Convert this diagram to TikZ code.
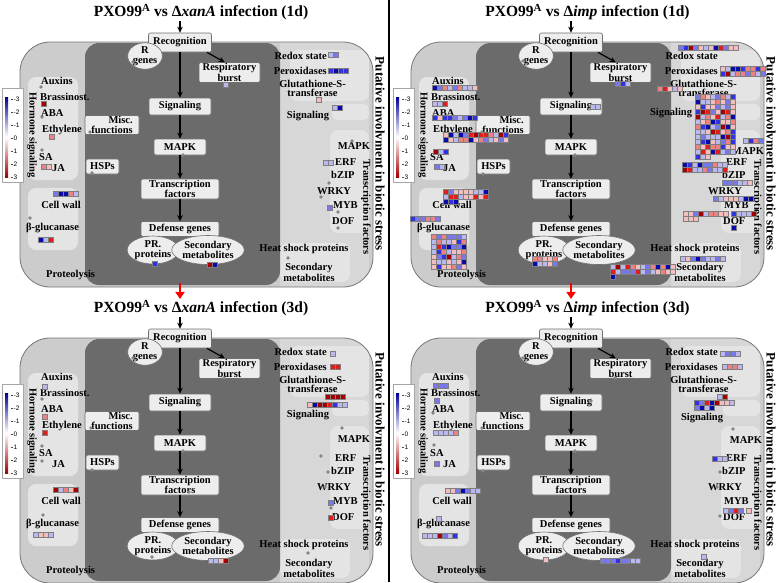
\documentclass[tikz,border=0pt]{standalone}
\usepackage{fontspec}
\setmainfont{Liberation Serif}
\newfontfamily\lsans{Liberation Sans}
\usetikzlibrary{arrows.meta,shapes.geometric}
\definecolor{outerc}{HTML}{CCCCCC}
\definecolor{rightc}{HTML}{D7D7D7}
\definecolor{lightc}{HTML}{E4E4E4}
\definecolor{innerc}{HTML}{6B6B6B}
\definecolor{nodef}{HTML}{EDEDED}
\definecolor{nodebd}{HTML}{707070}
\definecolor{outerbd}{HTML}{777777}
\definecolor{dotc}{HTML}{858585}
\definecolor{cellbd}{HTML}{7F7F7F}
\definecolor{b3}{RGB}{10,10,170}
\definecolor{b2}{RGB}{50,50,225}
\definecolor{b1}{RGB}{120,120,235}
\definecolor{b0}{RGB}{185,185,240}
\definecolor{r0}{RGB}{245,190,190}
\definecolor{r1}{RGB}{238,130,130}
\definecolor{r2}{RGB}{225,30,30}
\definecolor{r3}{RGB}{165,0,0}
\colorlet{hc1}{b3}\colorlet{hc2}{b2}\colorlet{hc3}{b1}\colorlet{hc4}{b1}
\colorlet{hc5}{b0}\colorlet{hc6}{b0}\colorlet{hc7}{b0}\colorlet{hc8}{r0}
\colorlet{hc9}{r0}\colorlet{hc10}{r0}\colorlet{hc11}{r1}\colorlet{hc12}{r1}
\colorlet{hc13}{r2}\colorlet{hc14}{r3}
\definecolor{lgb}{RGB}{0,0,150}
\definecolor{lgr}{RGB}{160,0,0}
\newcommand\lblf{\bfseries\fontsize{10.5}{9.5}\selectfont}
\tikzset{
 nb/.style={draw=nodebd, fill=nodef, rounded corners=2pt, line width=0.6pt, align=center, inner sep=0pt, font=\lblf},
 el/.style={ellipse, draw=nodebd, fill=nodef, line width=0.6pt, align=center, inner sep=0pt, font=\lblf},
 lb/.style={inner sep=0pt, font=\lblf, anchor=west, align=center},
 arr/.style={-{Stealth[length=6pt,width=5.5pt]}, line width=1.2pt},
 redarr/.style={-{Triangle[length=7pt,width=9pt]}, line width=2.2pt, red},
 ttl/.style={font=\bfseries\fontsize{15.5}{15.5}\selectfont, inner sep=1pt},
 vt/.style={rotate=-90, inner sep=0pt},
}
\newcommand\hmrow[3]{\foreach \cc [count=\ci from 0] in {#3}{\filldraw[fill=\cc, draw=cellbd, line width=0.4pt] ({#1+5*\ci},{#2}) rectangle ++(5,5);}}
\newcommand\hmgrid[4]{\foreach \gr in {1,...,#4}{\foreach \gc in {1,...,#3}{\pgfmathrandominteger{\gk}{1}{14}\filldraw[fill=hc\gk, draw=cellbd, line width=0.4pt] ({#1+5*(\gc-1)},{#2+5*(\gr-1)}) rectangle ++(5,5);}}}
\newcommand\dt[2]{\fill[dotc] (#1,#2) circle (1.8pt);}
\newcommand\hmlegend{%
 \filldraw[fill=white, draw=gray!70, line width=0.5pt] (2,88) rectangle (23,182);
 \shade[top color=lgb, bottom color=lgr, middle color=white] (5,97) rectangle (8,177);
 \foreach \v [count=\vi from 0] in {-3,-2,-1,0,1,2,3}{
   \draw[gray!60!black, line width=0.4pt] (10.5,{99+\vi*13}) -- (12.5,{99+\vi*13});
   \node[anchor=west, inner sep=0pt, font=\lsans\fontsize{6.5}{6.5}\selectfont] (leg\vi) at (13.5,{99+\vi*13}) {\v};
 }}
% #1 title, #2 title centre x, #3 right Signaling label, #4 right MAPK label
\newcommand\panel[4]{%
 \fill[outerc, rounded corners=30pt] (20,42) rectangle (373,287);
 \begin{scope}
  \clip[rounded corners=30pt] (20,42) rectangle (373,287);
  \fill[rightc] (280,42) rectangle (369,287);
 \end{scope}
 \fill[lightc, rounded corners=8pt] (28,77) rectangle (78,180);
 \fill[lightc, rounded corners=8pt] (28,188) rectangle (78,250);
 \fill[lightc, rounded corners=8pt] (290,50) rectangle (369,101);
 \fill[lightc, rounded corners=5pt] (332,104) rectangle (369,120);
 \fill[lightc, rounded corners=8pt] (330,130) rectangle (369,233);
 \fill[lightc, rounded corners=8pt] (280,243) rectangle (350,282);
 \draw[outerbd, line width=0.8pt, rounded corners=30pt] (20,42) rectangle (373,287);
 \fill[innerc, rounded corners=14pt] (85,43) rectangle (280,285);
 \hmlegend
 \node[ttl] (title) at (#2,12) {#1};
 \node[nb, minimum width=63pt, minimum height=19pt] (rec) at (180,42.5) {Recognition};
 \node[nb, minimum width=61pt, minimum height=20pt] (rb) at (229.5,72.5) {Respiratory\\burst};
 \node[nb, minimum width=62pt, minimum height=17pt] (sig) at (180,106.5) {Signaling};
 \node[nb, minimum width=54pt, minimum height=19pt, align=right] (misc) at (112,125) {Misc.\\functions};
 \node[nb, minimum width=52pt, minimum height=16pt] (mapk) at (180,147) {MAPK};
 \node[nb, minimum width=33pt, minimum height=15pt] (hsp) at (102.5,166.5) {HSPs};
 \node[nb, minimum width=78pt, minimum height=20pt] (tf) at (180,189) {Transcription\\factors};
 \node[nb, minimum width=78pt, minimum height=15pt] (def) at (180,229) {Defense genes};
 \node[el, minimum width=34pt, minimum height=23pt] (rg) at (145,56) {R\\genes};
 \node[el, minimum width=42pt, minimum height=28pt] (pr) at (153,250) {PR.\\proteins};
 \node[el, minimum width=45pt, minimum height=29pt] (sm) at (208,250) {Secondary\\metabolites};
 \draw[arr] (title.south -| rec.north) -- (rec.north);
 \draw[arr] (rec) -- (sig);
 \draw[arr] (sig) -- (mapk);
 \draw[arr] (mapk) -- (tf);
 \draw[arr] (tf) -- (def);
 \draw[arr] (rec.-20) -- (rb.115);
 \node[vt, font=\bfseries\fontsize{10.5}{10}\selectfont] (hsig) at (32,135) {Hormone signaling};
 \node[vt, font=\bfseries\fontsize{10.5}{10}\selectfont] (tfl) at (366,207) {Transcription factors};
 \node[vt, font=\bfseries\fontsize{13}{13}\selectfont] (put) at (380,154) {Putative involvment in biotic stress};
 \node[lb] (aux) at (41,81) {Auxins};
 \node[lb] (bra) at (40,97) {Brassinost.};
 \node[lb] (aba) at (41,113) {ABA};
 \node[lb] (eth) at (42,130) {Ethylene};
 \node[lb] (sa) at (39,157) {SA};
 \node[lb] (ja) at (52,168) {JA};
 \node[lb, anchor=center] (cw) at (61,205) {Cell wall};
 \node[lb] (glu) at (26,228) {β-glucanase};
 \node[lb] (prot) at (46,275) {Proteolysis};
 \node[lb, anchor=east] (red) at (327,56) {Redox state};
 \node[lb, anchor=east] (per) at (327,71) {Peroxidases};
 \node[lb, anchor=center] (gst) at (312.5,88.5) {Glutathione-S-\\transferase};
 \node[lb, anchor=center] (sigr) at (#3) {Signaling};
 \node[lb, anchor=center] (mapkr) at (#4) {MAPK};
 \node[lb] (erf) at (335,162) {ERF};
 \node[lb] (bzip) at (331,175) {bZIP};
 \node[lb] (wrky) at (317,191) {WRKY};
 \node[lb] (myb) at (333,205) {MYB};
 \node[lb] (dof) at (332,221) {DOF};
 \node[lb, anchor=center] (hsps) at (304,249) {Heat shock proteins};
 \node[lb, anchor=center] (smr) at (309,272.5) {Secondary\\metabolites};
}
\begin{document}
\begin{tikzpicture}[x=1pt,y=-1pt]
\pgfmathsetseed{11}
\useasboundingbox (0,0) rectangle (778,582);
\fill[white] (0,0) rectangle (778,582);
% ---------- top left
\begin{scope}[name prefix=tl-]
 \panel{PXO99\textsuperscript{A} vs Δ\textit{xanA} infection (1d)}{201}{308,116}{354,146}
 \hmrow{328}{52}{b0,b1}
 \hmrow{328}{68}{b2,b3,b2,b2}
 \hmrow{316}{97}{r0}
 \hmrow{332}{105}{b0,b3}
 \hmrow{223}{82}{b0}
 \hmrow{41}{101}{r3}
 \hmrow{49}{134}{r1}
 \hmrow{41}{164}{r1,r0}
 \hmrow{53}{191}{b1,b3,b3,r1,b0}
 \hmrow{38}{237}{b3,b0,r2}
 \hmrow{152}{261}{b2}
 \hmrow{207}{262}{r3,b3}
 \hmrow{323}{160}{b0,b0}
 \hmrow{327}{205}{b1}
 \dt{41}{87}\dt{42}{117}\dt{42}{150}\dt{90}{132}\dt{92}{173}\dt{30}{218}
 \dt{199}{106}\dt{183}{155}\dt{133}{62}\dt{352}{141}\dt{329}{183}\dt{321}{197}
 \dt{338}{212}\dt{338}{228}\dt{288}{258}
\end{scope}
% ---------- top right
\begin{scope}[shift={(391,0)}, name prefix=tr-]
 \panel{PXO99\textsuperscript{A} vs Δ\textit{imp} infection (1d)}{196.5}{280,113}{357,151}
 \hmgrid{287}{45}{12}{1}
 \hmgrid{329}{66}{9}{2}
 \hmrow{266}{86}{r1,r2,r0,b0,r0}
 \hmgrid{304}{94}{8}{12}
 \hmgrid{304}{154}{3}{1}
 \hmgrid{352}{138}{4}{1}
 \hmrow{224}{81}{b1,b2,b0}
 \hmrow{199}{104}{b0,b0}
 \hmrow{41}{85}{b3,b1,r1,b0,b1,r1,b0,b0,r0}
 \hmrow{41}{101}{b0,b0,r2}
 \hmrow{41}{115}{b2,r0,b2,b2,b1,b0,b1,b3,b2}
 \hmgrid{52}{132}{13}{2}
 \hmrow{42}{149}{r3,b0,b2}
 \hmrow{43}{164}{b1,b0}
 \hmgrid{52}{189}{9}{2}
 \hmrow{52}{199}{b3,b2,b3}
 \hmrow{19}{216}{b2,b1,b1,r1,r1,b1}
 \hmgrid{40}{234}{7}{7}
 \hmgrid{141}{256}{5}{2}
 \hmgrid{219}{264}{13}{2}
 \hmrow{219}{274}{b3}
 \hmrow{289}{256}{b0,r0,b1,b3,b1,b0,b0,b1,b0}
 \hmgrid{291}{162}{9}{2}
 \hmrow{331}{180}{b1,b1,b1,b0,b0,r0}
 \hmrow{322}{196}{b1,b0,r0,r0,r0,b0,b3,b3}
 \hmrow{292}{211}{r0,r0,b1,r3,b0,r1,r1,r0,r0}
 \hmrow{292}{216}{r0,r0,r0}
 \hmrow{340}{211}{b2,b0,b0,b0,r3}
 \hmrow{340}{225}{b3}
 \dt{132}{61}\dt{91}{132}\dt{92}{174}\dt{184}{155}
\end{scope}
% ---------- bottom left
\begin{scope}[shift={(0,296)}, name prefix=bl-]
 \panel{PXO99\textsuperscript{A} vs Δ\textit{xanA} infection (3d)}{201}{308,119}{354,143}
 \hmrow{330}{55}{b0}
 \hmrow{330}{68}{r2,r2}
 \hmrow{325}{98}{r3,r3,r3,r3}
 \hmrow{307}{106}{r0,b3,r3,r3,r2,b2,b0,b0}
 \hmrow{42}{88}{b0}
 \hmrow{42}{118}{r1}
 \hmrow{42}{134}{r2}
 \hmrow{53}{191}{r3,b0,r1,r0,r3}
 \hmrow{33}{236}{b0,r0,r0,b0}
 \hmrow{208}{262}{b0,b0,r0,r3}
 \hmrow{328}{204}{b1}
 \hmrow{328}{219}{r2}
 \dt{42}{103}\dt{42}{150}\dt{42}{165}\dt{43}{219}\dt{152}{261}\dt{224}{82}
 \dt{199}{105}\dt{183}{155}\dt{189}{196}\dt{91}{132}\dt{92}{174}\dt{133}{62}
 \dt{342}{132}\dt{321}{160}\dt{328}{176}\dt{325}{191}\dt{331}{212}\dt{308}{257}
\end{scope}
% ---------- bottom right
\begin{scope}[shift={(391,296)}, name prefix=br-]
 \panel{PXO99\textsuperscript{A} vs Δ\textit{imp} infection (3d)}{196.5}{311,122}{355,144}
 \hmrow{329}{55}{b0,b1,b1,b0}
 \hmrow{331}{68}{b0,r1,r1,b0}
 \hmrow{326}{98}{b0,r3}
 \hmrow{303}{104}{b2,b1,r2,b3,r3,r0,r0,b0}
 \hmrow{303}{109}{b1,b3,b0,b3}
 \hmrow{42}{87}{b1,b1,b1}
 \hmrow{43}{102}{b1}
 \hmrow{42}{134}{b0,b0,b0,b0,r1}
 \hmrow{43}{165}{b1}
 \hmrow{54}{192}{r0,r0,b1,b3,b1,b0,b0}
 \hmrow{45}{220}{b0}
 \hmrow{31}{237}{b0,b0,b0,r3,b1,b0,b2}
 \hmrow{152}{261}{r0}
 \hmrow{209}{262}{b1,b1,b1,b2,b1,b1,b0,b0}
 \hmrow{321}{160}{b2,b0,b0}
 \hmrow{332}{212}{b0,b1,r2,b1}
 \hmrow{355}{212}{r0}
 \hmrow{310}{258}{b0}
 \dt{132}{62}\dt{224}{82}\dt{200}{105}\dt{184}{155}\dt{91}{132}\dt{92}{175}
 \dt{342}{133}\dt{329}{176}\dt{326}{191}\dt{329}{220}\dt{42}{117}\dt{43}{149}
\end{scope}
% ---------- connectors between panels and divider
\coordinate (ra1) at (180,283);
\coordinate (ra2) at (571,283);
\draw[redarr] (ra1) -- (ra1 |- bl-title.north);
\draw[redarr] (ra2) -- (ra2 |- br-title.north);
\coordinate (dv1) at (389,0);
\coordinate (dv2) at (389,582);
\draw[line width=1.5pt] (dv1) -- (dv2);
\end{tikzpicture}
\end{document}
